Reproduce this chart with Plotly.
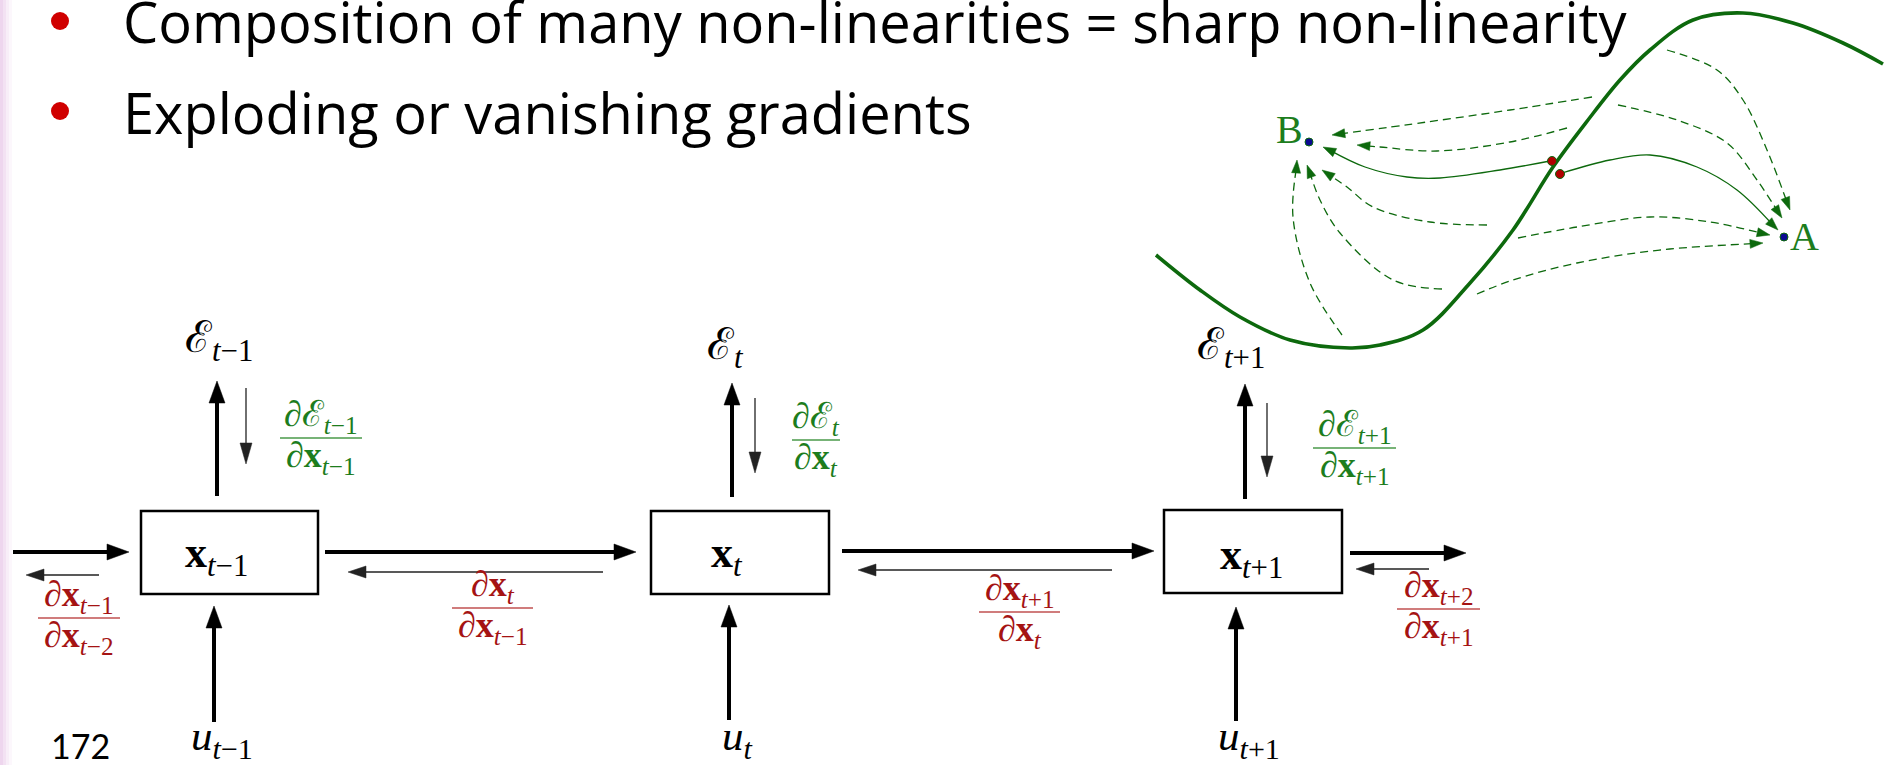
import numpy as np
import plotly.graph_objects as go

W, H = 1895, 765

# ---------------- data ----------------
bullet_texts = ["Composition of many non-linearities = sharp non-linearity",
                "Exploding or vanishing gradients"]
bullet_y = [21, 112]
bullet_dot_y = [21, 111]

# recurrent cells
cell_labels = ["<b>x</b><sub><i>t</i>−1</sub>", "<b>x</b><sub><i>t</i></sub>", "<b>x</b><sub><i>t</i>+1</sub>"]
box_x0 = [141, 651, 1164]
box_x1 = [318, 829, 1342]
box_y0 = [511, 511, 510]
box_y1 = [594, 594, 593]
cell_label_x = [216, 727, 1251]
cell_label_y = [555, 555, 557]

err_labels = ["ℰ<sub><i>t</i>−1</sub>", "ℰ<sub><i>t</i></sub>", "ℰ<sub><i>t</i>+1</sub>"]
err_x = [219, 725, 1231]
err_y = [340, 347, 347]

inp_labels = ["<i>u</i><sub><i>t</i>−1</sub>", "<i>u</i><sub><i>t</i></sub>", "<i>u</i><sub><i>t</i>+1</sub>"]
inp_x = [222, 737, 1249]
inp_y = [739, 739, 739]

# thick forward arrows (tail -> tip)
fwd_x0 = [13, 325, 842, 1350]
fwd_x1 = [129, 636, 1154, 1466]
fwd_y = [552, 552, 551, 553]
# thin backward arrows (tail -> tip)
back_x0 = [99, 603, 1112, 1429]
back_x1 = [26, 348, 858, 1356]
back_y = [575, 572, 570, 569]
# thick upward output arrows
out_x = [217, 732, 1245]
out_y0 = [496, 497, 499]
out_y1 = [381, 383, 384]
# thin downward error-gradient arrows
egrad_x = [246, 755, 1267]
egrad_y0 = [388, 398, 403]
egrad_y1 = [464, 473, 477]
# thick upward input arrows
in_x = [214, 729, 1236]
in_y0 = [722, 720, 721]
in_y1 = [606, 605, 607]

# gradient fractions
green_num = ["∂ℰ<sub><i>t</i>−1</sub>", "∂ℰ<sub><i>t</i></sub>", "∂ℰ<sub><i>t</i>+1</sub>"]
green_den = ["∂<b>x</b><sub><i>t</i>−1</sub>", "∂<b>x</b><sub><i>t</i></sub>", "∂<b>x</b><sub><i>t</i>+1</sub>"]
green_lx0 = [280, 792, 1313]
green_lx1 = [362, 840, 1396]
green_ly = [438, 440, 448]

red_num = ["∂<b>x</b><sub><i>t</i>−1</sub>", "∂<b>x</b><sub><i>t</i></sub>",
           "∂<b>x</b><sub><i>t</i>+1</sub>", "∂<b>x</b><sub><i>t</i>+2</sub>"]
red_den = ["∂<b>x</b><sub><i>t</i>−2</sub>", "∂<b>x</b><sub><i>t</i>−1</sub>",
           "∂<b>x</b><sub><i>t</i></sub>", "∂<b>x</b><sub><i>t</i>+1</sub>"]
red_lx0 = [38, 452, 979, 1397]
red_lx1 = [120, 533, 1060, 1480]
red_ly = [618, 608, 612, 609]

# error surface curve
curve_x = [1156, 1200, 1240, 1290, 1350, 1380, 1423, 1470, 1513, 1553, 1588, 1620, 1650, 1693, 1743, 1793, 1843, 1883]
curve_y = [255, 290, 317, 340, 348, 345, 330, 283, 230, 167, 120, 80, 50, 20, 13, 23, 43, 64]

# trajectories to B (last point = tip)
toB = [
    ([1592, 1510, 1427, 1332], [97, 110, 122, 135], True),
    ([1567, 1510, 1437, 1380, 1357], [128, 142, 151, 147, 145], True),
    ([1550, 1500, 1440, 1407, 1365, 1323], [161, 170, 178, 177, 167, 147], False),
    ([1487, 1430, 1373, 1347, 1322], [225, 222, 207, 187, 170], True),
    ([1442, 1393, 1340, 1320, 1307], [289, 280, 233, 200, 165], True),
    ([1342, 1310, 1293, 1297], [335, 283, 217, 160], True),
]
# trajectories to A
toA = [
    ([1667, 1717, 1743, 1767, 1790], [50, 70, 100, 150, 210], True),
    ([1618, 1677, 1727, 1757, 1782], [105, 120, 143, 180, 218], True),
    ([1562, 1610, 1650, 1697, 1737, 1778], [173, 160, 155, 167, 190, 230], False),
    ([1518, 1577, 1650, 1710, 1770], [238, 227, 217, 222, 235], True),
    ([1477, 1513, 1577, 1660, 1763], [294, 280, 263, 250, 243], True),
]
pointA = (1784, 237)
pointB = (1309, 142)
red_pts_x = [1552, 1560]
red_pts_y = [161, 174]

# ---------------- styles ----------------
BLACK = "#000000"
THIN = "#222222"
CURVE_GREEN = "#0d690d"
TEXT_GREEN = "#1d7d1d"
TEXT_RED = "#a51313"
MATH_FONT = "Liberation Serif, DejaVu Serif, serif"
SANS_FONT = "Open Sans, Lato, sans-serif"

fig = go.Figure()
shapes = []
annotations = []


def add_head(xt, yt, xp, yp, L, Wd, color):
    d = np.array([xt - xp, yt - yp], dtype=float)
    d /= np.linalg.norm(d)
    n = np.array([-d[1], d[0]])
    tip = np.array([xt, yt], dtype=float)
    base = tip - L * d
    p1 = base + n * Wd / 2
    p2 = base - n * Wd / 2
    fig.add_trace(go.Scatter(x=[tip[0], p1[0], p2[0], tip[0]], y=[tip[1], p1[1], p2[1], tip[1]],
                             mode="lines", fill="toself", fillcolor=color,
                             line=dict(color=color, width=0.5), hoverinfo="skip", showlegend=False))
    return tip - 0.6 * L * d


def straight_arrow(x0, y0, x1, y1, lw, L, Wd, color):
    end = add_head(x1, y1, x0, y0, L, Wd, color)
    fig.add_trace(go.Scatter(x=[x0, end[0]], y=[y0, end[1]], mode="lines",
                             line=dict(color=color, width=lw), hoverinfo="skip", showlegend=False))


def curved_arrow(xs, ys, dashed, color, lw=1.3, L=13, Wd=9):
    end = add_head(xs[-1], ys[-1], xs[-2], ys[-2], L, Wd, color)
    px = list(xs[:-1]) + [end[0]]
    py = list(ys[:-1]) + [end[1]]
    fig.add_trace(go.Scatter(x=px, y=py, mode="lines", line_shape="spline",
                             line=dict(color=color, width=lw, dash="8px,5px" if dashed else "solid"),
                             hoverinfo="skip", showlegend=False))


# left decorative strip
for i, c in enumerate(["#eed6ee", "#f3e2f3", "#f8eef8", "#fcf7fc"]):
    shapes.append(dict(type="rect", xref="x", yref="y", x0=i * 3, x1=i * 3 + 3, y0=0, y1=H,
                       fillcolor=c, line=dict(width=0), layer="below"))

# bullets
fig.add_trace(go.Scatter(x=[60, 60], y=bullet_dot_y, mode="markers",
                         marker=dict(color="#d00000", size=18), hoverinfo="skip", showlegend=False))
for t, y in zip(bullet_texts, bullet_y):
    annotations.append(dict(x=121, y=y, xref="x", yref="y", text=t, showarrow=False,
                            xanchor="left", yanchor="middle",
                            font=dict(family=SANS_FONT, size=56, color="black")))

# slide number
annotations.append(dict(x=80, y=745, xref="x", yref="y", text="172", showarrow=False,
                        xanchor="center", yanchor="middle",
                        font=dict(family="Lato, sans-serif", size=34, color="black")))

# boxes
for x0, x1, y0, y1 in zip(box_x0, box_x1, box_y0, box_y1):
    shapes.append(dict(type="rect", xref="x", yref="y", x0=x0, x1=x1, y0=y0, y1=y1,
                       line=dict(color=BLACK, width=2.5), fillcolor="rgba(0,0,0,0)"))
for t, x, y in zip(cell_labels, cell_label_x, cell_label_y):
    annotations.append(dict(x=x, y=y, xref="x", yref="y", text=t, showarrow=False,
                            font=dict(family=MATH_FONT, size=44, color="black")))
for t, x, y in zip(err_labels, err_x, err_y):
    annotations.append(dict(x=x, y=y, xref="x", yref="y", text=t, showarrow=False,
                            font=dict(family=MATH_FONT, size=44, color="black")))
for t, x, y in zip(inp_labels, inp_x, inp_y):
    annotations.append(dict(x=x, y=y, xref="x", yref="y", text=t, showarrow=False,
                            font=dict(family=MATH_FONT, size=43, color="black")))

# arrows
for x0, x1, y in zip(fwd_x0, fwd_x1, fwd_y):
    straight_arrow(x0, y, x1, y, 4, 22, 16, BLACK)
for x0, x1, y in zip(back_x0, back_x1, back_y):
    straight_arrow(x0, y, x1, y, 1.4, 18, 12, THIN)
for x, y0, y1 in zip(out_x, out_y0, out_y1):
    straight_arrow(x, y0, x, y1, 4, 22, 16, BLACK)
for x, y0, y1 in zip(egrad_x, egrad_y0, egrad_y1):
    straight_arrow(x, y0, x, y1, 1.3, 21, 12, THIN)
for x, y0, y1 in zip(in_x, in_y0, in_y1):
    straight_arrow(x, y0, x, y1, 4, 22, 16, BLACK)


def fraction(num, den, lx0, lx1, ly, color, linecolor):
    cx = (lx0 + lx1) / 2
    shapes.append(dict(type="line", xref="x", yref="y", x0=lx0, x1=lx1, y0=ly, y1=ly,
                       line=dict(color=linecolor, width=1.5)))
    annotations.append(dict(x=cx, y=ly + 3, xref="x", yref="y", text=num, showarrow=False,
                            xanchor="center", yanchor="bottom",
                            font=dict(family=MATH_FONT, size=36, color=color)))
    annotations.append(dict(x=cx, y=ly - 5, xref="x", yref="y", text=den, showarrow=False,
                            xanchor="center", yanchor="top",
                            font=dict(family=MATH_FONT, size=36, color=color)))


for n_, d_, a, b, y in zip(green_num, green_den, green_lx0, green_lx1, green_ly):
    fraction(n_, d_, a, b, y, TEXT_GREEN, "#4a9a4a")
for n_, d_, a, b, y in zip(red_num, red_den, red_lx0, red_lx1, red_ly):
    fraction(n_, d_, a, b, y, TEXT_RED, "#c05050")

# error surface
fig.add_trace(go.Scatter(x=curve_x, y=curve_y, mode="lines", line_shape="spline",
                         line=dict(color=CURVE_GREEN, width=3.6), hoverinfo="skip", showlegend=False))
for xs, ys, dashed in toB + toA:
    curved_arrow(xs, ys, dashed, CURVE_GREEN)

fig.add_trace(go.Scatter(x=red_pts_x, y=red_pts_y, mode="markers",
                         marker=dict(color="#b00000", size=9, line=dict(color=CURVE_GREEN, width=1)),
                         hoverinfo="skip", showlegend=False))
fig.add_trace(go.Scatter(x=[pointA[0], pointB[0]], y=[pointA[1], pointB[1]], mode="markers",
                         marker=dict(color="#0a0a90", size=8, line=dict(color=CURVE_GREEN, width=1)),
                         hoverinfo="skip", showlegend=False))
annotations.append(dict(x=pointB[0] - 4, y=129, xref="x", yref="y", text="B", showarrow=False,
                        xanchor="right", yanchor="middle",
                        font=dict(family=MATH_FONT, size=40, color=TEXT_GREEN)))
annotations.append(dict(x=pointA[0] + 4, y=236, xref="x", yref="y", text="A", showarrow=False,
                        xanchor="left", yanchor="middle",
                        font=dict(family=MATH_FONT, size=40, color=TEXT_GREEN)))

fig.update_layout(
    width=W, height=H, margin=dict(l=0, r=0, t=0, b=0),
    paper_bgcolor="white", plot_bgcolor="white",
    xaxis=dict(range=[0, W], visible=False, fixedrange=True),
    yaxis=dict(range=[H, 0], visible=False, fixedrange=True),
    shapes=shapes, annotations=annotations, showlegend=False,
)

fig.write_html("out.html", config={"displayModeBar": False},
               post_script="document.body.style.margin='0';document.body.style.overflow='hidden';")
